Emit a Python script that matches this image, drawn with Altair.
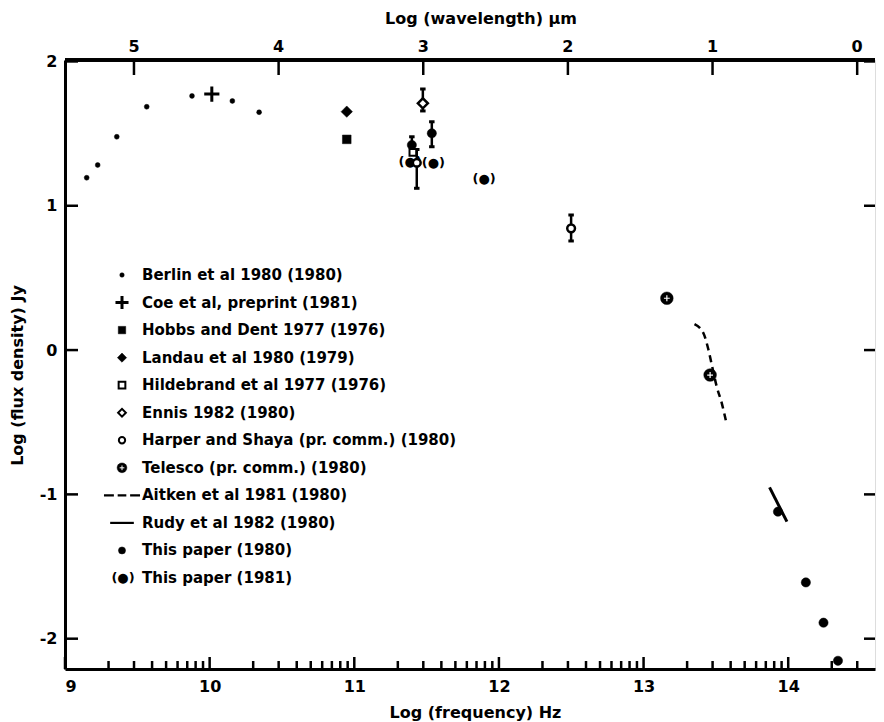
import math
import altair as alt
import pandas as pd

C_LOG = 14.4768  # log10(c) in micron/s : log nu = C_LOG - log lambda(um)

# ---------------- data ----------------
berlin_x = [9.150, 9.226, 9.358, 9.565, 9.878, 10.157, 10.342]
berlin_y = [1.194, 1.282, 1.478, 1.686, 1.761, 1.726, 1.648]
coe_x, coe_y = [10.015], [1.774]
hobbs_x, hobbs_y = [10.948], [1.460]
landau_x, landau_y = [10.948], [1.652]
hild_x, hild_y = [11.405], [1.370]
ennis_x, ennis_y = [11.474], [1.710]
ennis_lo, ennis_hi = [1.657], [1.809]
harper_x, harper_y = [11.432, 12.499], [1.298, 0.844]
harper_lo, harper_hi = [1.121, 0.756], [1.390, 0.936]
telesco_x, telesco_y = [13.161, 13.460], [0.359, -0.173]
aitken_x = [13.352, 13.414, 13.449, 13.472, 13.506, 13.541, 13.571]
aitken_y = [0.180, 0.116, 0.000, -0.104, -0.254, -0.369, -0.497]
rudy_x, rudy_y = [13.871, 13.991], [-0.951, -1.189]
tp80_x = [11.398, 11.536, 13.929, 14.122, 14.244, 14.344]
tp80_y = [1.421, 1.502, -1.120, -1.610, -1.889, -2.153]
tp80_err_x = [11.398, 11.536]
tp80_lo, tp80_hi = [1.370, 1.409], [1.478, 1.582]
tp81_x, tp81_y = [11.386, 11.547, 11.898], [1.305, 1.298, 1.185]

x_major = [9, 10, 11, 12, 13, 14]
y_major = [2, 1, 0, -1, -2]
lam_ticks = [5, 4, 3, 2, 1, 0]

legend_labels = [
    "Berlin et al 1980 (1980)",
    "Coe  et al, preprint (1981)",
    "Hobbs and Dent 1977 (1976)",
    "Landau et al 1980 (1979)",
    "Hildebrand et al 1977 (1976)",
    "Ennis 1982 (1980)",
    "Harper and Shaya (pr. comm.) (1980)",
    "Telesco (pr. comm.) (1980)",
    "Aitken et al 1981 (1980)",
    "Rudy et al 1982 (1980)",
    "This paper (1980)",
    "This paper (1981)",
]

# ---------------- styles ----------------
CROSS = "M-1,0L1,0M0,-1L0,1"
DASH3 = "M-1,0L-0.45,0M-0.24,0L0.24,0M0.45,0L1,0"
HLINE = "M-1,0L1,0"
FONT = "DejaVu Sans"

W, H = 810, 609
xs = alt.Scale(domain=[9, 14.6], nice=False, zero=False)
ys = alt.Scale(domain=[-2.21, 2.01], nice=False, zero=False)

xaxis = alt.Axis(values=x_major, title="Log (frequency) Hz", ticks=False, tickSize=0,
                 grid=False, domainWidth=3, domainColor="black", labelFont=FONT,
                 labelFontSize=16, labelFontWeight="bold", labelColor="black",
                 labelPadding=9, labelExpr="'' + datum.value", titleFont=FONT,
                 titleFontSize=16, titleFontWeight="bold", titleColor="black",
                 titleX=410, titleY=48, titleBaseline="alphabetic", titleAlign="center")
yaxis = alt.Axis(values=y_major, title="Log (flux density) Jy", ticks=False, tickSize=0,
                 grid=False, domainWidth=3, domainColor="black", labelFont=FONT,
                 labelFontSize=16, labelFontWeight="bold", labelColor="black",
                 labelPadding=8, labelExpr="'' + datum.value", titleFont=FONT,
                 titleFontSize=16, titleFontWeight="bold", titleColor="black",
                 titleAngle=270, titleX=-48, titleY=315, titleAlign="center",
                 titleBaseline="middle")


def X(f="x"):
    return alt.X(f"{f}:Q", scale=xs, axis=xaxis)


def Y(f="y"):
    return alt.Y(f"{f}:Q", scale=ys, axis=yaxis)


def pts(xv, yv, shape, fill, stroke, sw, size, z):
    n = len(xv)
    return pd.DataFrame({"x": xv, "y": yv, "shape": [shape] * n, "fill": [fill] * n,
                         "stroke": [stroke] * n, "sw": [sw] * n, "size": [size] * n,
                         "z": [z] * n})


err_x = ennis_x + harper_x + tp80_err_x
err_lo = ennis_lo + harper_lo + tp80_lo
err_hi = ennis_hi + harper_hi + tp80_hi
err_df = pd.DataFrame({"x": err_x, "lo": err_lo, "hi": err_hi})

pts_df = pd.concat([
    pts(err_x, err_lo, HLINE, "transparent", "black", 3, 30, 1),
    pts(err_x, err_hi, HLINE, "transparent", "black", 3, 30, 1),
    pts(berlin_x, berlin_y, "circle", "black", "black", 0.5, 24, 2),
    pts(coe_x, coe_y, CROSS, "transparent", "black", 3, 230, 2),
    pts(hobbs_x, hobbs_y, "square", "black", "black", 0.5, 75, 2),
    pts(landau_x, landau_y, "diamond", "black", "black", 0.5, 130, 2),
    pts(tp80_x, tp80_y, "circle", "black", "black", 0.5, 85, 2),
    pts(hild_x, hild_y, "square", "white", "black", 2, 45, 3),
    pts(ennis_x, ennis_y, "diamond", "white", "black", 2.5, 100, 3),
    pts(harper_x, harper_y, "circle", "white", "black", 2.5, 60, 4),
    pts(telesco_x, telesco_y, "circle", "black", "black", 0.5, 160, 2),
    pts(telesco_x, telesco_y, CROSS, "transparent", "white", 1.2, 34, 5),
], ignore_index=True)


def point_layer(df, xenc, yenc):
    return alt.Chart(df).mark_point(filled=True, opacity=1).encode(
        x=xenc, y=yenc,
        shape=alt.Shape("shape:N", scale=None),
        fill=alt.Fill("fill:N", scale=None),
        stroke=alt.Stroke("stroke:N", scale=None),
        strokeWidth=alt.StrokeWidth("sw:Q", scale=None),
        size=alt.Size("size:Q", scale=None),
        order=alt.Order("z:Q"),
    )


# ticks
minor = [d + math.log10(k) for d in range(9, 15) for k in range(2, 10)
         if d + math.log10(k) < 14.6]
major_df = pd.DataFrame({"x": x_major})
minor_df = pd.DataFrame({"x": minor})
yt_df = pd.DataFrame({"y": y_major})
lam_df = pd.DataFrame({"x": [C_LOG - l for l in lam_ticks],
                       "lab": [str(l) for l in lam_ticks]})

frame_top = alt.Chart(major_df).mark_rule(color="black", strokeWidth=3).encode(
    x=alt.value(0), x2=alt.value(W), y=alt.value(0))
bot_major = alt.Chart(major_df).mark_rule(color="black", strokeWidth=2.5).encode(
    x=X(), y=alt.value(H), y2=alt.value(H - 12))
bot_minor = alt.Chart(minor_df).mark_rule(color="black", strokeWidth=2.5).encode(
    x=X(), y=alt.value(H), y2=alt.value(H - 8))
left_t = alt.Chart(yt_df).mark_rule(color="black", strokeWidth=2.5).encode(
    y=Y(), x=alt.value(0), x2=alt.value(13))
right_t = alt.Chart(yt_df).mark_rule(color="black", strokeWidth=2.5).encode(
    y=Y(), x=alt.value(W - 11), x2=alt.value(W))
top_t = alt.Chart(lam_df).mark_rule(color="black", strokeWidth=2.5).encode(
    x=X(), y=alt.value(0), y2=alt.value(15))
top_lab = alt.Chart(lam_df).mark_text(font=FONT, fontSize=16, fontWeight="bold",
                                      color="black", baseline="alphabetic").encode(
    x=X(), y=alt.value(-8), text="lab:N")
top_title = alt.Chart(major_df.head(1)).mark_text(
    font=FONT, fontSize=16, fontWeight="bold", color="black", baseline="alphabetic",
    text="Log (wavelength) \u03bcm").encode(x=alt.value(416), y=alt.value(-36))

errbars = alt.Chart(err_df).mark_rule(color="black", strokeWidth=2.5).encode(
    x=X(), y=Y("lo"), y2="hi:Q")
aitken = alt.Chart(pd.DataFrame({"x": aitken_x, "y": aitken_y})).mark_line(
    color="black", strokeWidth=2.5, strokeDash=[7, 5], interpolate="monotone").encode(
    x=X(), y=Y())
rudy = alt.Chart(pd.DataFrame({"x": rudy_x, "y": rudy_y})).mark_line(
    color="black", strokeWidth=3).encode(x=X(), y=Y())
tp81 = alt.Chart(pd.DataFrame({"x": tp81_x, "y": tp81_y})).mark_text(
    font="DejaVu Sans", fontSize=13, fontWeight="bold", color="black",
    text="(\u25cf)").encode(x=X(), y=Y())
points = point_layer(pts_df, X(), Y())

main = alt.layer(frame_top, bot_major, bot_minor, left_t, right_t, top_t, top_lab,
                 top_title, errbars, aitken, rudy, tp81, points)

# ---------------- legend ----------------
LY = alt.Y("row:Q", scale=alt.Scale(domain=[0, 11], range=[215, 518]), axis=None)
leg_text_df = pd.DataFrame({"row": list(range(12)), "label": legend_labels})
leg_sym_df = pd.DataFrame({
    "row": [0, 1, 2, 3, 4, 5, 6, 7, 7, 8, 9, 10],
    "shape": ["circle", CROSS, "square", "diamond", "square", "diamond", "circle",
              "circle", CROSS, DASH3, HLINE, "circle"],
    "fill": ["black", "transparent", "black", "black", "white", "white", "white",
             "black", "transparent", "transparent", "transparent", "black"],
    "stroke": ["black", "black", "black", "black", "black", "black", "black",
               "black", "white", "black", "black", "black"],
    "sw": [0.5, 3, 0.5, 0.5, 2, 2, 2, 0.5, 1.0, 2.2, 2.2, 0.5],
    "size": [20, 170, 55, 85, 45, 60, 40, 95, 22, 1300, 560, 50],
    "z": [1, 1, 1, 1, 1, 1, 1, 1, 2, 1, 1, 1],
})
leg_text = alt.Chart(leg_text_df).mark_text(
    font=FONT, fontSize=15, fontWeight="bold", color="black", align="left",
    baseline="middle").encode(x=alt.value(77), y=LY, text="label:N")
leg_pts = alt.Chart(leg_sym_df).mark_point(filled=True, opacity=1).encode(
    x=alt.value(57), y=LY,
    shape=alt.Shape("shape:N", scale=None),
    fill=alt.Fill("fill:N", scale=None),
    stroke=alt.Stroke("stroke:N", scale=None),
    strokeWidth=alt.StrokeWidth("sw:Q", scale=None),
    size=alt.Size("size:Q", scale=None),
    order=alt.Order("z:Q"),
)
leg81 = alt.Chart(leg_text_df.tail(1)).mark_text(
    font="DejaVu Sans", fontSize=13, fontWeight="bold", color="black",
    text="(\u25cf)").encode(x=alt.value(58), y=LY)
legend = alt.layer(leg_pts, leg81, leg_text)

chart = alt.layer(main, legend).resolve_scale(y="independent").properties(
    width=W, height=H,
    autosize=alt.AutoSizeParams(type="none"),
    padding={"left": 57, "top": 52, "right": 1, "bottom": 54},
).configure_view(stroke=None).configure(background="white")

chart.save("out.html", embed_options={"renderer": "svg", "actions": False})
